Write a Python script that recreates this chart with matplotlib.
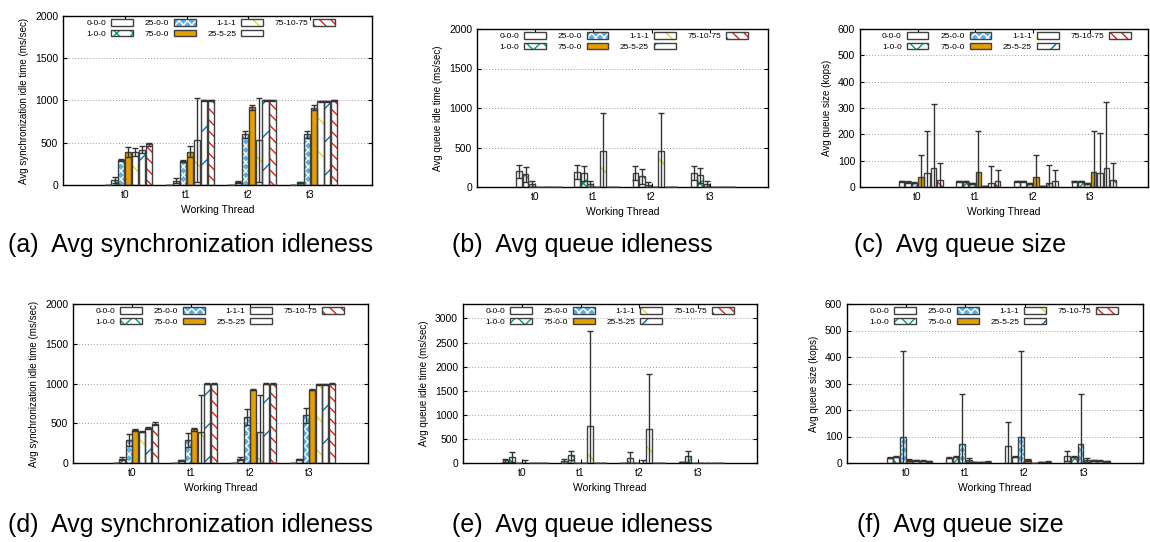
import numpy as np
import matplotlib
matplotlib.use('Agg')
import matplotlib.pyplot as plt
from matplotlib.patches import Patch

plt.rcParams['font.family'] = ['Liberation Sans', 'DejaVu Sans']
plt.rcParams['hatch.linewidth'] = 1.0

threads = ['t0', 't1', 't2', 't3']
configs = ['0-0-0', '1-0-0', '25-0-0', '75-0-0', '1-1-1', '25-5-25', '75-10-75']

# (a) avg synchronization idle time, first run (ms/sec)
a_mean = [[3, 3, 3, 3], [62, 52, 32, 32], [300, 285, 600, 600], [392, 392, 920, 912],
          [392, 532, 532, 992], [420, 1000, 1000, 992], [480, 1000, 1000, 1000]]
a_err = [[0, 0, 0, 0], [35, 25, 10, 8], [12, 16, 40, 40], [60, 65, 30, 30],
         [45, 495, 495, 5], [40, 5, 5, 5], [20, 5, 5, 5]]

# (b) avg queue idle time, first run (ms/sec)
b_mean = [[197, 190, 176, 176], [164, 176, 134, 147], [38, 40, 30, 35], [0, 0, 0, 0],
          [0, 450, 450, 0], [0, 0, 0, 0], [0, 0, 0, 0]]
b_err = [[85, 85, 85, 85], [95, 95, 95, 95], [40, 40, 30, 35], [0, 0, 0, 0],
         [0, 485, 485, 0], [0, 0, 0, 0], [0, 0, 0, 0]]

# (c) avg queue size, first run (kops)
c_mean = [[21, 21, 21, 21], [20, 21, 21, 21], [17, 15, 15, 15], [37, 58, 37, 58],
          [52, 2, 2, 52], [71, 17, 17, 71], [28, 21, 21, 28]]
c_err = [[3, 3, 3, 3], [3, 3, 3, 3], [2, 2, 2, 2], [85, 155, 85, 155],
         [160, 0, 0, 152], [244, 63, 66, 252], [62, 44, 44, 64]]

# (d) avg synchronization idle time, second run (ms/sec)
d_mean = [[3, 3, 3, 3], [55, 34, 55, 47], [288, 288, 577, 602], [415, 424, 924, 924],
          [394, 386, 386, 992], [437, 1000, 1000, 992], [492, 1000, 1000, 1000]]
d_err = [[0, 0, 0, 0], [15, 8, 15, 5], [75, 85, 100, 95], [15, 20, 5, 8],
         [10, 466, 466, 5], [10, 5, 5, 5], [20, 5, 5, 5]]

# (e) avg queue idle time, second run (ms/sec)
e_mean = [[55, 40, 0, 20], [125, 160, 112, 140], [0, 0, 0, 0], [3, 3, 3, 3],
          [0, 768, 698, 0], [0, 0, 0, 0], [0, 0, 0, 0]]
e_err = [[35, 40, 0, 0], [105, 90, 118, 110], [0, 0, 0, 0], [65, 0, 65, 0],
         [0, 1975, 1159, 0], [0, 0, 0, 0], [0, 0, 0, 0]]

# (f) avg queue size, second run (kops)
f_mean = [[20, 20, 66, 28], [23, 23, 23, 23], [99, 70, 99, 70], [11, 11, 11, 11],
          [10, 2, 1, 10], [9, 4, 3, 9], [6, 5, 5, 6]]
f_err = [[2, 2, 90, 19], [2, 2, 2, 2], [325, 191, 325, 191], [3, 8, 3, 8],
         [1, 0, 0, 1], [1, 0, 0, 1], [1, 1, 1, 1]]

# estilo de cada serie (gnuplot-like)
faces = ['white', 'white', '#56b4e9', '#e69f00', 'white', 'white', 'white']
hatch_cols = ['white', '#009e73', 'white', '#e69f00', '#e8d820', '#0072b2', '#e51e10']
hatches = [None, 'xx', 'xxxx', None, '\\', '/', '\\\\\\']
edge = '#404040'


def draw(ax, mean, err, ymax, ystep, ylabel):
    x = np.arange(len(threads))
    for i in range(len(configs)):
        pos = x + (i - 2.5) / 9
        ax.bar(pos, mean[i], 0.1, color=faces[i], edgecolor=hatch_cols[i],
               hatch=hatches[i], linewidth=0, zorder=2)
        ax.bar(pos, mean[i], 0.1, fill=False, edgecolor=edge, linewidth=1.0, zorder=3)
        ax.errorbar(pos, mean[i], yerr=err[i], fmt='none', ecolor='#333333',
                    elinewidth=1.0, capsize=2, capthick=1.0, zorder=4)
    ax.set_xlim(-1, 4)
    ax.set_ylim(0, ymax)
    ax.set_xticks(x)
    ax.set_xticklabels(threads)
    ax.set_yticks(np.arange(0, ymax + 1, ystep))
    ax.yaxis.grid(True, linestyle=(0, (1, 2)), color='#999999', linewidth=0.7)
    ax.set_axisbelow(True)
    ax.tick_params(direction='in', length=3, top=True, right=True, labelsize=7.5)
    ax.set_xlabel('Working Thread', fontsize=7.5)
    ax.set_ylabel(ylabel, fontsize=7)
    for s in ax.spines.values():
        s.set_linewidth(1.0)

    handles = [(Patch(facecolor=faces[i], edgecolor=hatch_cols[i], hatch=hatches[i], linewidth=0),
                Patch(fill=False, edgecolor=edge, linewidth=1.0)) for i in range(len(configs))]
    ax.legend(handles, configs, loc='upper left', bbox_to_anchor=(0.065, 1.0), ncol=4,
              frameon=False, fontsize=6, markerfirst=False, handlelength=2.6,
              handleheight=0.8, handletextpad=0.6, columnspacing=1.4,
              labelspacing=0.3, borderpad=0.4, borderaxespad=0)


W, H = 1150, 542
fig = plt.figure(figsize=(W / 100, H / 100), dpi=100)


def box(l, r, t, b):
    return [l / W, 1 - b / H, (r - l) / W, (b - t) / H]


sync_lbl = 'Avg synchronization idle time (ms/sec)'
qidle_lbl = 'Avg queue idle time (ms/sec)'
qsize_lbl = 'Avg queue size (kops)'

ax_a = fig.add_axes(box(63, 372, 16, 185))
ax_b = fig.add_axes(box(477, 768, 29, 187))
ax_c = fig.add_axes(box(860, 1148, 29, 187))
ax_d = fig.add_axes(box(73, 368, 304, 463))
ax_e = fig.add_axes(box(463, 757, 304, 463))
ax_f = fig.add_axes(box(847, 1143, 304, 463))

draw(ax_a, a_mean, a_err, 2000, 500, sync_lbl)
draw(ax_b, b_mean, b_err, 2000, 500, qidle_lbl)
draw(ax_c, c_mean, c_err, 600, 100, qsize_lbl)
draw(ax_d, d_mean, d_err, 2000, 500, sync_lbl)
draw(ax_e, e_mean, e_err, 3300, 500, qidle_lbl)
draw(ax_f, f_mean, f_err, 600, 100, qsize_lbl)
ax_e.set_yticks(np.arange(0, 3001, 500))

# subtitulos
caps = ['(a)  Avg synchronization idleness', '(b)  Avg queue idleness', '(c)  Avg queue size',
        '(d)  Avg synchronization idleness', '(e)  Avg queue idleness', '(f)  Avg queue size']
cx = [190, 582, 960, 190, 582, 960]
cy = [245, 245, 245, 525, 525, 525]
for c, x0, y0 in zip(caps, cx, cy):
    fig.text(x0 / W, 1 - y0 / H, c, ha='center', va='center', fontsize=18)

fig.savefig('out.png', dpi=100)
